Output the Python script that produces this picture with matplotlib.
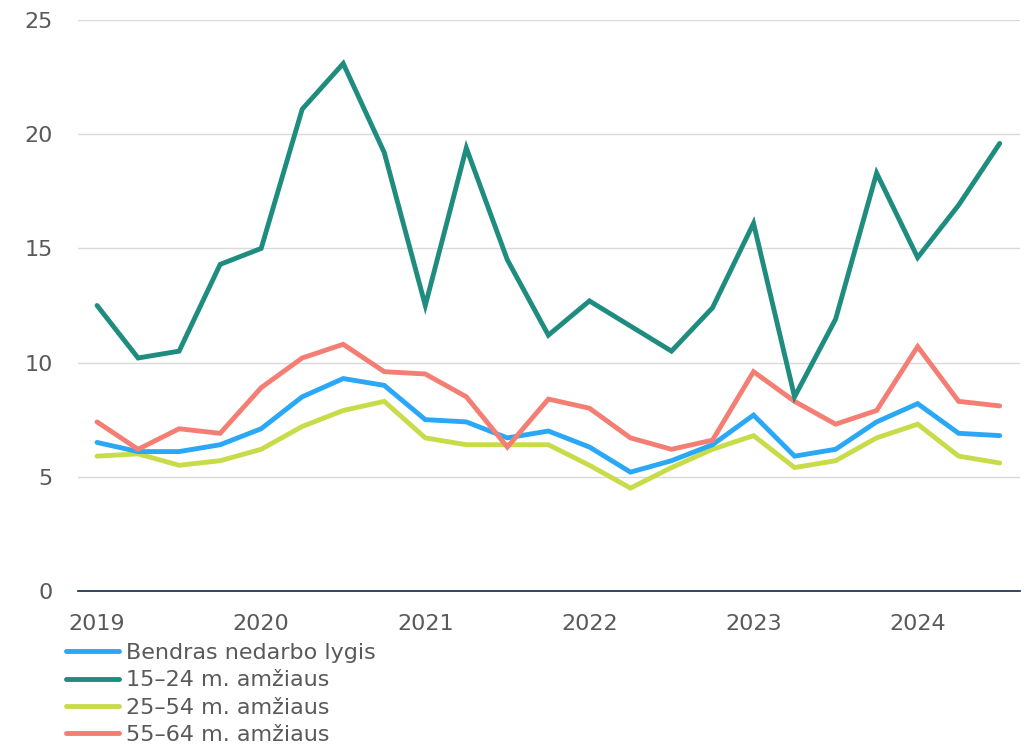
import matplotlib.pyplot as plt

# ketvirtiniai duomenys 2019 I - 2024 III
quarters = list(range(23))
year_ticks = [0, 4, 8, 12, 16, 20]
year_labels = ["2019", "2020", "2021", "2022", "2023", "2024"]

total = [6.5, 6.1, 6.1, 6.4, 7.1, 8.5, 9.3, 9.0, 7.5, 7.4, 6.7, 7.0,
         6.3, 5.2, 5.7, 6.4, 7.7, 5.9, 6.2, 7.4, 8.2, 6.9, 6.8]
age_15_24 = [12.5, 10.2, 10.5, 14.3, 15.0, 21.1, 23.1, 19.2, 12.5, 19.4, 14.5, 11.2,
             12.7, 11.6, 10.5, 12.4, 16.1, 8.5, 11.9, 18.3, 14.6, 16.9, 19.6]
age_25_54 = [5.9, 6.0, 5.5, 5.7, 6.2, 7.2, 7.9, 8.3, 6.7, 6.4, 6.4, 6.4,
             5.5, 4.5, 5.4, 6.2, 6.8, 5.4, 5.7, 6.7, 7.3, 5.9, 5.6]
age_55_64 = [7.4, 6.2, 7.1, 6.9, 8.9, 10.2, 10.8, 9.6, 9.5, 8.5, 6.3, 8.4,
             8.0, 6.7, 6.2, 6.6, 9.6, 8.3, 7.3, 7.9, 10.7, 8.3, 8.1]

labels = ["Bendras nedarbo lygis", "15\u201324 m. amžiaus",
          "25\u201354 m. amžiaus", "55\u201364 m. amžiaus"]
colors = ["#2aa8f5", "#1e8c7e", "#c8dc4a", "#f47e73"]

plt.rcParams['font.family'] = ['DejaVu Sans']

fig = plt.figure(figsize=(10.27, 7.46), dpi=100)
ax = fig.add_axes([0.076, 0.208, 0.917, 0.765])

series = [total, age_15_24, age_25_54, age_55_64]
zorders = [3, 5, 2, 4]
lines = []
for s, c, lab, z in zip(series, colors, labels, zorders):
    ln, = ax.plot(quarters, s, color=c, lw=3.5, label=lab, zorder=z,
                  solid_joinstyle='miter', solid_capstyle='round')
    lines.append(ln)

ax.set_xlim(-0.463, 22.49)
ax.set_ylim(0, 25)
ax.set_yticks([0, 5, 10, 15, 20, 25])
ax.set_xticks(year_ticks)
ax.set_xticklabels(year_labels)

ax.grid(axis='y', color='#d9d9d9', lw=1)
ax.set_axisbelow(True)
for sp in ['top', 'right', 'left']:
    ax.spines[sp].set_visible(False)
ax.spines['bottom'].set_color('#1f3a55')
ax.spines['bottom'].set_linewidth(1.3)
ax.spines['bottom'].set_zorder(6)

ax.tick_params(axis='both', length=0, labelsize=16, colors='#595959')
ax.tick_params(axis='y', pad=18)
ax.tick_params(axis='x', pad=17)

fig.legend(handles=lines, labels=labels, loc='upper left',
           bbox_to_anchor=(0.064, 0.138), frameon=False, fontsize=16,
           labelcolor='#595959', handlelength=2.4, handletextpad=0.3,
           labelspacing=0.33, borderpad=0, borderaxespad=0)

fig.savefig('out.png', dpi=100)
